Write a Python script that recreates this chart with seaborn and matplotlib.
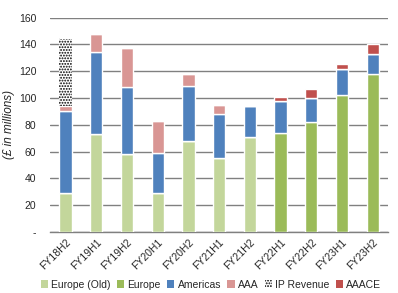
import numpy as np
import pandas as pd
import matplotlib
matplotlib.use('Agg')
import matplotlib.pyplot as plt
from matplotlib.patches import Patch
import seaborn as sns

# ---------------- data ----------------
periods = ['FY18H2', 'FY19H1', 'FY19H2', 'FY20H1', 'FY20H2', 'FY21H1',
           'FY21H2', 'FY22H1', 'FY22H2', 'FY23H1', 'FY23H2']
europe_old = [29, 73, 58, 29, 68, 55, 71, 0, 0, 0, 0]
europe = [0, 0, 0, 0, 0, 0, 0, 74, 82, 102, 118]
americas = [61, 61, 50, 30, 41, 33, 23, 24, 18, 20, 14.5]
aaa = [4, 14, 29, 23.5, 9, 7, 0, 0, 0, 0, 0]
ip_revenue = [50.5, 0, 0, 0, 0, 0, 0, 0, 0, 0, 0]
aaace = [0, 0, 0, 0, 0, 0, 0, 3, 6.75, 3, 8]

series = [
    ('Europe (Old)', europe_old, dict(color='#C3D69B')),
    ('Europe', europe, dict(color='#9BBB59')),
    ('Americas', americas, dict(color='#4F81BD')),
    ('AAA', aaa, dict(color='#D99694')),
    ('IP Revenue', ip_revenue, dict(color='white', hatch='......', edgecolor='black', linewidth=0)),
    ('AAACE', aaace, dict(color='#C0504D')),
]

sns.set_theme(style='white')
plt.rcParams['font.family'] = ['Liberation Sans', 'DejaVu Sans']
plt.rcParams['hatch.linewidth'] = 0.9

fig, ax = plt.subplots(figsize=(3.98, 2.93), dpi=100)
fig.subplots_adjust(left=0.126, right=0.975, top=0.94, bottom=0.208)

bottom = np.zeros(len(periods))
for name, vals, style in series:
    df = pd.DataFrame({'period': periods, 'value': vals})
    sns.barplot(data=df, x='period', y='value', order=periods, ax=ax,
                bottom=bottom.copy(), width=0.4, saturation=1, errorbar=None,
                zorder=3, **style)
    bottom += np.array(vals, dtype=float)

ax.set_ylim(0, 160)
ax.set_xlim(-0.5, len(periods) - 0.5)
ax.set_yticks(range(0, 161, 20))
ax.set_yticklabels(['-'] + [str(v) for v in range(20, 161, 20)], fontsize=7.5)
ax.yaxis.grid(True, color='#808080', linewidth=1, zorder=0)
ax.set_axisbelow(True)
for s in ['top', 'right', 'left']:
    ax.spines[s].set_visible(False)
ax.spines['bottom'].set_color('#808080')
ax.spines['bottom'].set_linewidth(1)
ax.tick_params(axis='y', length=0, pad=10)

ax.set_xticks(range(len(periods)))
ax.set_xticklabels(periods, rotation=45, ha='right', rotation_mode='anchor', fontsize=7.5)
ax.tick_params(axis='x', which='major', length=0, pad=4)
ax.set_xticks(np.arange(-0.5, len(periods), 1.0), minor=True)
ax.tick_params(axis='x', which='minor', length=4, color='#808080', width=1, direction='out')

ax.set_xlabel('')
ax.set_ylabel('(£ in millions)', fontsize=8.5, style='italic')
ax.yaxis.set_label_coords(-0.105, 0.5)

handles = [Patch(facecolor=st.get('color'), hatch=st.get('hatch'),
                 edgecolor=st.get('edgecolor', 'none'), linewidth=0, label=n)
           for n, _, st in series]
fig.legend(handles=handles, loc='lower center', ncol=6, bbox_to_anchor=(0.53, -0.01),
           frameon=False, fontsize=7.5, handlelength=0.7, handleheight=0.7,
           handletextpad=0.3, columnspacing=0.6, borderaxespad=0.2)

plt.savefig('out.png', dpi=100)
